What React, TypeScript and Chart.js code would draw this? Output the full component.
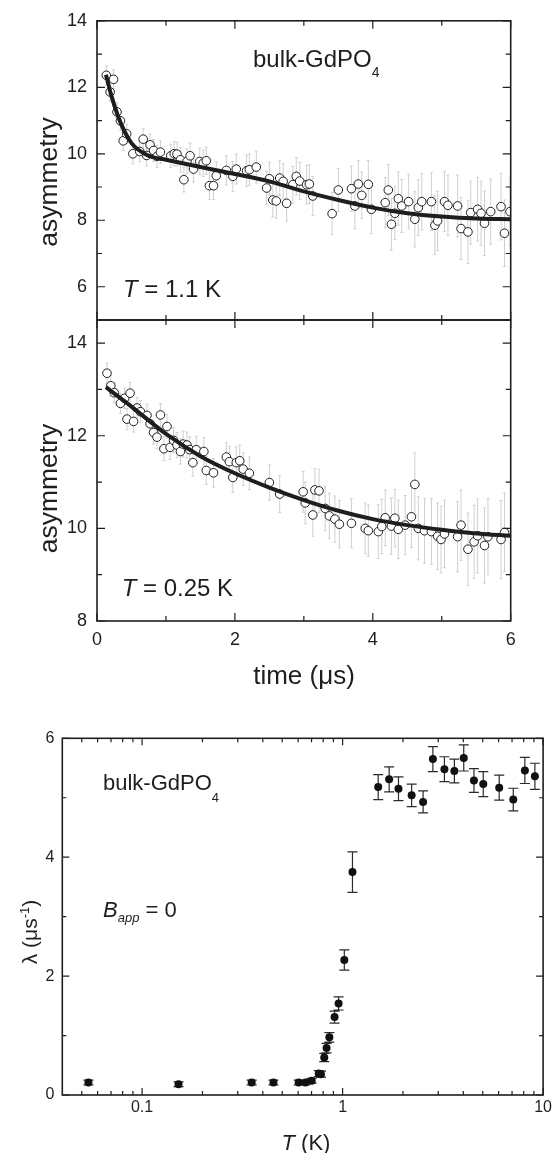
import React, { useEffect, useRef } from 'react';
import { Chart, registerables } from 'chart.js';
Chart.register(...registerables);

const FONT = "'Liberation Sans', Arial, Helvetica, sans-serif";
const INK = '#1e1e1e';

// ---------- tick definitions ----------
const timeMajorTicks = [0, 2, 4, 6];
const timeMinorTicks = [1, 3, 5];
const topAsymTicks = [6, 8, 10, 12, 14];
const topAsymMinor = [5, 7, 9, 11, 13];
const midAsymTicks = [8, 10, 12, 14];
const midAsymMinor = [9, 11, 13];
const lamTicks = [0, 2, 4, 6];
const lamMinor = [1, 3, 5];
const tempTicks = [0.1, 1, 10];
const tempMinor = [0.05, 0.06, 0.07, 0.08, 0.09, 0.2, 0.3, 0.4, 0.5, 0.6, 0.7, 0.8, 0.9, 2, 3, 4, 5, 6, 7, 8, 9];

// ---------- T = 1.1 K panel ----------
const topTime = [
  0.135, 0.19, 0.24, 0.29, 0.34, 0.38, 0.43, 0.52, 0.62, 0.67,
  0.72, 0.77, 0.82, 0.87, 0.92, 1.07, 1.12, 1.16, 1.21, 1.26,
  1.305, 1.35, 1.40, 1.49, 1.54, 1.585, 1.63, 1.69, 1.73, 1.876,
  1.97, 2.02, 2.17, 2.21, 2.31, 2.46, 2.50, 2.55, 2.60, 2.65,
  2.70, 2.75, 2.84, 2.89, 2.94, 3.04, 3.08, 3.13, 3.41, 3.50,
  3.69, 3.74, 3.79, 3.84, 3.935, 3.98, 4.18, 4.225, 4.27, 4.32,
  4.37, 4.42, 4.52, 4.61, 4.66, 4.71, 4.85, 4.90, 4.94, 5.04,
  5.09, 5.23, 5.28, 5.38, 5.42, 5.52, 5.57, 5.62, 5.71, 5.86,
  5.91, 5.99,
];
const topAsym = [
  12.36, 11.86, 12.24, 11.26, 10.99, 10.39, 10.6, 10.0, 10.07, 10.44,
  9.95, 10.27, 10.1, 9.92, 10.05, 9.94, 10.0, 9.99, 9.82, 9.22,
  9.77, 9.94, 9.54, 9.77, 9.72, 9.79, 9.04, 9.04, 9.34, 9.50,
  9.32, 9.54, 9.49, 9.52, 9.60, 8.97, 9.25, 8.61, 8.58, 9.27,
  9.17, 8.51, 9.07, 9.32, 9.18, 9.07, 9.09, 8.73, 8.20, 8.91,
  8.95, 8.43, 9.09, 8.75, 9.08, 8.33, 8.53, 8.91, 7.88, 8.21,
  8.65, 8.43, 8.56, 8.03, 8.38, 8.56, 8.56, 7.85, 7.98, 8.56,
  8.45, 8.43, 7.75, 7.65, 8.23, 8.33, 8.21, 7.91, 8.26, 8.41,
  7.61, 8.26,
];
const topErr = [
  0.28, 0.28, 0.28, 0.28, 0.28, 0.29, 0.29, 0.3, 0.31, 0.31,
  0.32, 0.32, 0.33, 0.33, 0.34, 0.35, 0.36, 0.36, 0.37, 0.37,
  0.38, 0.38, 0.39, 0.4, 0.4, 0.41, 0.41, 0.42, 0.42, 0.44,
  0.45, 0.45, 0.47, 0.47, 0.48, 0.5, 0.5, 0.51, 0.52, 0.52,
  0.53, 0.54, 0.55, 0.56, 0.56, 0.58, 0.58, 0.59, 0.63, 0.65,
  0.68, 0.69, 0.7, 0.7, 0.72, 0.73, 0.76, 0.77, 0.78, 0.79,
  0.8, 0.8, 0.82, 0.83, 0.84, 0.85, 0.87, 0.88, 0.89, 0.9,
  0.91, 0.93, 0.93, 0.95, 0.95, 0.96, 0.97, 0.97, 0.98, 1.0,
  1.0, 1.02,
];
const topFitTime = [0.13, 0.2, 0.3, 0.4, 0.5, 0.6, 0.75, 1.0, 1.5, 2.0, 2.5, 3.0, 3.5, 4.0, 4.5, 5.0, 5.5, 6.0];
const topFitAsym = [12.38, 11.81, 11.16, 10.67, 10.32, 10.12, 9.94, 9.82, 9.6, 9.39, 9.17, 8.87, 8.61, 8.38, 8.21, 8.11, 8.05, 8.03];

// ---------- T = 0.25 K panel ----------
const midTime = [
  0.145, 0.20, 0.25, 0.34, 0.40, 0.435, 0.48, 0.53, 0.58, 0.63,
  0.725, 0.77, 0.82, 0.87, 0.92, 0.97, 1.015, 1.06, 1.11, 1.16,
  1.21, 1.25, 1.305, 1.345, 1.39, 1.44, 1.55, 1.585, 1.69, 1.876,
  1.92, 1.97, 2.02, 2.07, 2.12, 2.21, 2.50, 2.65, 2.99, 3.02,
  3.13, 3.16, 3.22, 3.31, 3.37, 3.45, 3.515, 3.69, 3.89, 3.935,
  4.08, 4.13, 4.18, 4.27, 4.32, 4.37, 4.47, 4.56, 4.61, 4.66,
  4.75, 4.85, 4.94, 4.99, 5.04, 5.23, 5.28, 5.38, 5.47, 5.52,
  5.62, 5.67, 5.86, 5.91,
];
const midAsym = [
  13.35, 13.08, 12.93, 12.70, 12.81, 12.36, 12.92, 12.31, 12.60, 12.52,
  12.44, 12.26, 12.07, 11.97, 12.45, 11.72, 12.20, 11.75, 11.90, 11.80,
  11.66, 11.82, 11.80, 11.70, 11.42, 11.70, 11.66, 11.25, 11.20, 11.54,
  11.44, 11.10, 11.42, 11.46, 11.28, 11.19, 10.99, 10.74, 10.79, 10.55,
  10.29, 10.83, 10.81, 10.43, 10.27, 10.20, 10.09, 10.11, 10.00, 9.95,
  9.93, 10.04, 10.23, 10.05, 10.22, 9.98, 10.07, 10.25, 10.95, 10.00,
  9.95, 9.93, 9.83, 9.76, 9.88, 9.82, 10.07, 9.55, 9.71, 9.84,
  9.63, 9.82, 9.76, 9.91,
];
const midErr = [
  0.22, 0.22, 0.22, 0.22, 0.22, 0.23, 0.23, 0.23, 0.23, 0.24,
  0.24, 0.24, 0.25, 0.25, 0.25, 0.26, 0.26, 0.26, 0.27, 0.27,
  0.27, 0.28, 0.28, 0.28, 0.29, 0.29, 0.3, 0.3, 0.31, 0.32,
  0.33, 0.33, 0.34, 0.34, 0.35, 0.35, 0.38, 0.4, 0.44, 0.45,
  0.46, 0.46, 0.47, 0.48, 0.49, 0.5, 0.51, 0.53, 0.55, 0.56,
  0.58, 0.59, 0.6, 0.61, 0.62, 0.63, 0.64, 0.66, 0.68, 0.68,
  0.7, 0.71, 0.72, 0.72, 0.73, 0.76, 0.76, 0.78, 0.79, 0.8,
  0.81, 0.82, 0.84, 0.85,
];
const midFitTime = [0.13, 0.5, 1.0, 1.5, 2.0, 2.5, 3.0, 3.5, 4.0, 4.5, 5.0, 5.5, 6.0];
const midFitAsym = [13.05, 12.63, 12.04, 11.56, 11.19, 10.88, 10.61, 10.38, 10.20, 10.07, 9.97, 9.89, 9.84];

// ---------- lambda vs T ----------
const lamTemp = [
  0.054, 0.152, 0.352, 0.452, 0.604, 0.652, 0.701, 0.76, 0.78, 0.81,
  0.832, 0.859, 0.912, 0.955, 1.02, 1.12, 1.505, 1.707, 1.90, 2.21,
  2.52, 2.82, 3.22, 3.61, 4.02, 4.52, 5.03, 6.04, 7.10, 8.11, 9.10,
];
const lamValue = [
  0.21, 0.18, 0.21, 0.21, 0.21, 0.21, 0.24, 0.36, 0.35, 0.63,
  0.79, 0.97, 1.31, 1.54, 2.27, 3.75, 5.18, 5.31, 5.15, 5.04,
  4.93, 5.65, 5.48, 5.45, 5.67, 5.29, 5.23, 5.17, 4.97, 5.46, 5.36,
];
const lamErr = [
  0.04, 0.04, 0.04, 0.04, 0.04, 0.04, 0.04, 0.05, 0.05, 0.07,
  0.08, 0.08, 0.1, 0.11, 0.17, 0.34, 0.21, 0.21, 0.2, 0.19,
  0.185, 0.21, 0.21, 0.2, 0.22, 0.2, 0.21, 0.21, 0.19, 0.22, 0.22,
];

// ---------- plugins ----------
type Seg = { t: string; it?: boolean; sub?: boolean; sup?: boolean };

function drawRich(ctx: any, it: any) {
  const segs: Seg[] = it.segs;
  const size = it.size;
  const small = it.smallSize ?? size * 0.6;
  ctx.save();
  ctx.translate(it.x, it.y);
  if (it.rot) ctx.rotate(it.rot);
  const fontFor = (s: Seg) => `${s.it ? 'italic ' : ''}${s.sub || s.sup ? small : size}px ${FONT}`;
  const widths = segs.map((s) => {
    ctx.font = fontFor(s);
    return ctx.measureText(s.t).width;
  });
  const total = widths.reduce((a, b) => a + b, 0);
  let cx = it.align === 'center' ? -total / 2 : 0;
  ctx.fillStyle = INK;
  ctx.textAlign = 'left';
  ctx.textBaseline = 'alphabetic';
  segs.forEach((s, i) => {
    ctx.font = fontFor(s);
    const dy = s.sub ? it.subDy ?? size * 0.3 : s.sup ? -(it.supDy ?? size * 0.4) : 0;
    ctx.fillText(s.t, cx, dy);
    cx += widths[i];
  });
  ctx.restore();
}

const textPlugin = {
  id: 'texts',
  afterDraw(chart: any, _a: any, o: any) {
    (o.items || []).forEach((it: any) => drawRich(chart.ctx, it));
  },
};

const framePlugin = {
  id: 'frame',
  afterDatasetsDraw(chart: any, _a: any, o: any) {
    const { ctx, chartArea: a } = chart;
    const sx = chart.scales.x;
    const sy = chart.scales.y;
    ctx.save();
    ctx.strokeStyle = INK;
    ctx.lineWidth = 1.2;
    ctx.beginPath();
    const xt = (vals: number[], len: number) => {
      vals.forEach((v) => {
        const p = sx.getPixelForValue(v);
        ctx.moveTo(p, a.bottom);
        ctx.lineTo(p, a.bottom - len);
        ctx.moveTo(p, a.top);
        ctx.lineTo(p, a.top + len);
      });
    };
    const yt = (vals: number[], len: number) => {
      vals.forEach((v) => {
        const p = sy.getPixelForValue(v);
        ctx.moveTo(a.left, p);
        ctx.lineTo(a.left + len, p);
        ctx.moveTo(a.right, p);
        ctx.lineTo(a.right - len, p);
      });
    };
    xt(o.xMajor, o.majorLen);
    xt(o.xMinor, o.minorLen);
    yt(o.yMajor, o.majorLen);
    yt(o.yMinor, o.minorLen);
    ctx.stroke();
    ctx.lineWidth = 1.6;
    ctx.strokeRect(a.left, a.top, a.right - a.left, a.bottom - a.top);
    ctx.restore();
  },
};

const errorBarPlugin = {
  id: 'errorBars',
  beforeDatasetsDraw(chart: any, _a: any, o: any) {
    if (!o || !o.errors) return;
    const { ctx, chartArea: a } = chart;
    const meta = chart.getDatasetMeta(o.datasetIndex);
    const ds = chart.data.datasets[o.datasetIndex];
    const sy = chart.scales.y;
    ctx.save();
    ctx.beginPath();
    ctx.rect(a.left, a.top, a.right - a.left, a.bottom - a.top);
    ctx.clip();
    ctx.strokeStyle = o.color;
    ctx.lineWidth = o.width;
    ctx.beginPath();
    meta.data.forEach((pt: any, i: number) => {
      const v = ds.data[i].y;
      const e = o.errors[i];
      const y1 = sy.getPixelForValue(v + e);
      const y2 = sy.getPixelForValue(v - e);
      ctx.moveTo(pt.x, y1);
      ctx.lineTo(pt.x, y2);
      ctx.moveTo(pt.x - o.cap, y1);
      ctx.lineTo(pt.x + o.cap, y1);
      ctx.moveTo(pt.x - o.cap, y2);
      ctx.lineTo(pt.x + o.cap, y2);
    });
    ctx.stroke();
    ctx.restore();
  },
};

const setTicks = (vals: number[]) => (s: any) => {
  s.ticks = vals.map((v) => ({ value: v }));
};

// ---------- configs ----------
function asymConfig(p: any) {
  return {
    type: 'scatter',
    data: {
      datasets: [
        {
          type: 'line',
          data: p.fitT.map((t: number, i: number) => ({ x: t, y: p.fitA[i] })),
          borderColor: INK,
          borderWidth: 4,
          pointRadius: 0,
          cubicInterpolationMode: 'monotone',
          fill: false,
          order: 0,
        },
        {
          data: p.time.map((t: number, i: number) => ({ x: t, y: p.asym[i] })),
          pointRadius: 4.3,
          pointBackgroundColor: '#ffffff',
          pointBorderColor: INK,
          pointBorderWidth: 1,
          showLine: false,
          order: 1,
        },
      ],
    },
    options: {
      responsive: false,
      animation: false,
      devicePixelRatio: 1,
      events: [],
      layout: { padding: { top: p.padTop, right: 44.3, left: 0, bottom: 0 } },
      scales: {
        x: {
          type: 'linear',
          min: 0,
          max: 6,
          grid: { display: false, drawTicks: false },
          border: { display: false },
          afterBuildTicks: setTicks(timeMajorTicks),
          ticks: {
            display: p.showX,
            padding: 8,
            color: INK,
            font: { size: 18, family: FONT },
            callback: (v: any) => String(v),
          },
          afterFit: (s: any) => {
            s.height = p.xHeight;
          },
        },
        y: {
          type: 'linear',
          min: p.yMin,
          max: p.yMax,
          grid: { display: false, drawTicks: false },
          border: { display: false },
          afterBuildTicks: setTicks(p.yTicks),
          ticks: {
            padding: 10,
            color: INK,
            font: { size: 18, family: FONT },
            callback: (v: any) => String(v),
          },
          afterFit: (s: any) => {
            s.width = 97;
          },
        },
      },
      plugins: {
        legend: { display: false },
        tooltip: { enabled: false },
        frame: {
          xMajor: timeMajorTicks,
          xMinor: timeMinorTicks,
          yMajor: p.yTicks,
          yMinor: p.yMinor,
          majorLen: 8,
          minorLen: 5,
        },
        errorBars: { datasetIndex: 1, errors: p.err, color: '#d0d0d0', width: 1, cap: 1.5 },
        texts: { items: p.texts },
      },
    },
    plugins: [errorBarPlugin, framePlugin, textPlugin],
  };
}

// top panel canvas: page y 0..350, chart area 20..320
const topConfig = () =>
  asymConfig({
    time: topTime,
    asym: topAsym,
    err: topErr,
    fitT: topFitTime,
    fitA: topFitAsym,
    yMin: 5,
    yMax: 14,
    yTicks: topAsymTicks,
    yMinor: topAsymMinor,
    showX: false,
    padTop: 20,
    xHeight: 30,
    texts: [
      { segs: [{ t: 'asymmetry' }], x: 57, y: 182, size: 26.5, align: 'center', rot: -Math.PI / 2 },
      { segs: [{ t: 'bulk-GdPO' }, { t: '4', sub: true }], x: 253, y: 66.7, size: 24, smallSize: 14, subDy: 10 },
      { segs: [{ t: 'T', it: true }, { t: ' = 1.1 K' }], x: 123, y: 296.7, size: 24 },
    ],
  });

// middle panel canvas: page y 290..700, chart area 320..621
const midConfig = () =>
  asymConfig({
    time: midTime,
    asym: midAsym,
    err: midErr,
    fitT: midFitTime,
    fitA: midFitAsym,
    yMin: 8,
    yMax: 14.5,
    yTicks: midAsymTicks,
    yMinor: midAsymMinor,
    showX: true,
    padTop: 30,
    xHeight: 79,
    texts: [
      { segs: [{ t: 'asymmetry' }], x: 57, y: 198.5, size: 26.5, align: 'center', rot: -Math.PI / 2 },
      { segs: [{ t: 'T', it: true }, { t: ' = 0.25 K' }], x: 121.7, y: 306, size: 24 },
      { segs: [{ t: 'time (μs)' }], x: 304, y: 394, size: 26, align: 'center' },
    ],
  });

const lamConfig = () => ({
  type: 'scatter',
  data: {
    datasets: [
      {
        data: lamTemp.map((t, i) => ({ x: t, y: lamValue[i] })),
        pointRadius: 4,
        pointBackgroundColor: '#111111',
        pointBorderColor: '#111111',
        pointBorderWidth: 0,
        showLine: false,
      },
    ],
  },
  options: {
    responsive: false,
    animation: false,
    devicePixelRatio: 1,
    events: [],
    layout: { padding: { top: 38.3, right: 10, left: 0, bottom: 0 } },
    scales: {
      x: {
        type: 'logarithmic',
        min: 0.04,
        max: 10,
        grid: { display: false, drawTicks: false },
        border: { display: false },
        afterBuildTicks: setTicks(tempTicks),
        ticks: {
          padding: 3,
          color: INK,
          font: { size: 16, family: FONT },
          callback: (v: any) => String(v),
        },
        afterFit: (s: any) => {
          s.height = 58;
        },
      },
      y: {
        type: 'linear',
        min: 0,
        max: 6,
        grid: { display: false, drawTicks: false },
        border: { display: false },
        afterBuildTicks: setTicks(lamTicks),
        ticks: {
          padding: 8,
          color: INK,
          font: { size: 16, family: FONT },
          callback: (v: any) => String(v),
        },
        afterFit: (s: any) => {
          s.width = 62.3;
        },
      },
    },
    plugins: {
      legend: { display: false },
      tooltip: { enabled: false },
      frame: {
        xMajor: tempTicks,
        xMinor: tempMinor,
        yMajor: lamTicks,
        yMinor: lamMinor,
        majorLen: 7,
        minorLen: 4,
      },
      errorBars: { datasetIndex: 0, errors: lamErr, color: '#2a2a2a', width: 1.2, cap: 5 },
      texts: {
        items: [
          {
            segs: [{ t: 'λ (μs' }, { t: '-1', sup: true }, { t: ')' }],
            x: 37,
            y: 232,
            size: 21,
            smallSize: 13,
            supDy: 8,
            align: 'center',
            rot: -Math.PI / 2,
          },
          { segs: [{ t: 'T', it: true }, { t: ' (K)' }], x: 306, y: 450, size: 22, align: 'center' },
          { segs: [{ t: 'bulk-GdPO' }, { t: '4', sub: true }], x: 103, y: 90, size: 22, smallSize: 13, subDy: 12 },
          {
            segs: [{ t: 'B', it: true }, { t: 'app', it: true, sub: true }, { t: ' = 0' }],
            x: 103,
            y: 216.7,
            size: 22,
            smallSize: 13,
            subDy: 5,
          },
        ],
      },
    },
  },
  plugins: [errorBarPlugin, framePlugin, textPlugin],
});

function ChartCanvas({ make, top, height }: { make: () => any; top: number; height: number }) {
  const ref = useRef<HTMLCanvasElement | null>(null);
  useEffect(() => {
    const chart = new Chart(ref.current as HTMLCanvasElement, make());
    return () => chart.destroy();
  }, []);
  return (
    <canvas
      ref={ref}
      width={555}
      height={height}
      style={{ position: 'absolute', left: 0, top, width: 555, height, display: 'block' }}
    />
  );
}

export default function App() {
  return (
    <div style={{ position: 'absolute', left: 0, top: 0, width: 555, height: 1153, background: '#ffffff', overflow: 'hidden' }}>
      <ChartCanvas make={topConfig} top={0} height={350} />
      <ChartCanvas make={midConfig} top={290} height={410} />
      <ChartCanvas make={lamConfig} top={700} height={453} />
    </div>
  );
}
